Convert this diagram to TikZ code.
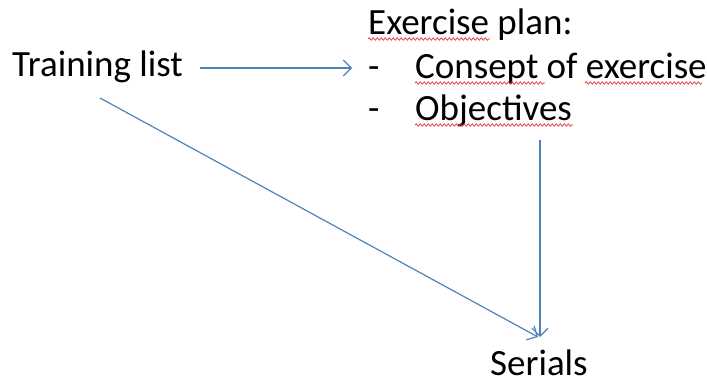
\documentclass[tikz,border=0pt]{standalone}
\usepackage{fontspec}
\setmainfont{Carlito}
\usetikzlibrary{arrows.meta,decorations.pathmorphing}
\definecolor{linkblue}{RGB}{79,129,189}
\definecolor{squig}{RGB}{230,70,70}
\tikzset{
  lbl/.style={anchor=base west, inner sep=0pt, font=\fontsize{37}{44}\selectfont},
  conn/.style={draw=linkblue, line width=1.2pt, -{Straight Barb[length=8pt,width=16pt,line width=1.2pt]}},
  spell/.style={draw=squig, line width=0.8pt, decorate, decoration={snake, amplitude=1.2pt, segment length=4pt}}
}
\begin{document}
\begin{tikzpicture}[x=1pt,y=-1pt]
\useasboundingbox (0,0) rectangle (707,385);
\node[lbl] (train) at (12,77) {Training list};
\node[lbl] (plan) at (368,35) {Exercise plan:};
\node[lbl] (d1) at (368,79) {-};
\node[lbl] (consept) at (415,79) {Consept of exercise};
\node[lbl] (d2) at (368,121) {-};
\node[lbl] (obj) at (415,121) {Objectives};
\node[lbl] (ser) at (490,375) {Serials};
\coordinate (a1s) at (200,68);
\coordinate (a1e) at (352,68);
\coordinate (a2s) at (100,98);
\coordinate (tip) at (538,337);
\coordinate (a3s) at (540,140);
\draw[conn] (a1s) -- (a1e);
\draw[conn] (a2s) -- (tip);
\draw[conn] (a3s) -- (540,337);
\draw[spell] (368,39) -- (490,39);
\draw[spell] (415,83) -- (545,83);
\draw[spell] (585,83) -- (702,83);
\draw[spell] (415,125) -- (573,125);
\end{tikzpicture}
\end{document}
